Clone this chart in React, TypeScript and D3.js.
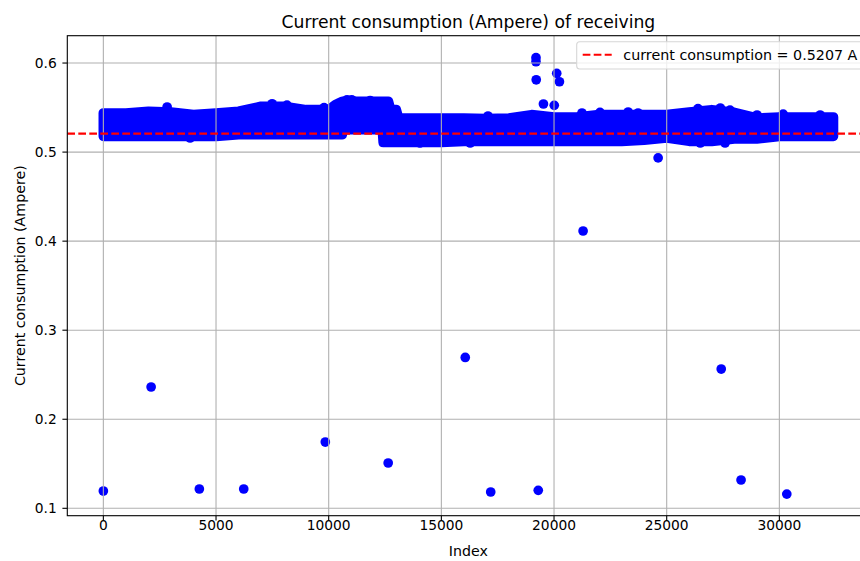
import React, { useEffect, useRef } from 'react';
import * as d3 from 'd3';

// dense band of samples: envelope of the marker centres
const bandIndex = [0, 1000, 2000, 3000, 4000, 5000, 6000, 7000, 8000, 9000, 10000, 10300, 10600, 10650, 11000, 12000, 12380, 12420, 12650, 12750, 13000, 13100, 14000, 15000, 16000, 17000, 18000, 19000, 20000, 21000, 22000, 23000, 24000, 25000, 26000, 27000, 28000, 29000, 30000, 31000, 32000, 32400];
const bandUpper = [0.5439, 0.5439, 0.5458, 0.545, 0.542, 0.5439, 0.5458, 0.5514, 0.5514, 0.5476, 0.5476, 0.5533, 0.557, 0.557, 0.557, 0.557, 0.557, 0.557, 0.557, 0.5476, 0.5476, 0.5382, 0.5382, 0.5382, 0.5382, 0.5377, 0.5382, 0.542, 0.5394, 0.5394, 0.542, 0.542, 0.542, 0.542, 0.545, 0.5476, 0.5446, 0.5382, 0.5394, 0.5394, 0.5394, 0.5394];
const bandLower = [0.5177, 0.5177, 0.5177, 0.5177, 0.5177, 0.5177, 0.5195, 0.5195, 0.5195, 0.5195, 0.5195, 0.5195, 0.5195, 0.5251, 0.5251, 0.5251, 0.5251, 0.511, 0.511, 0.511, 0.511, 0.511, 0.511, 0.511, 0.5121, 0.5121, 0.5121, 0.5121, 0.5121, 0.5121, 0.5121, 0.5121, 0.5135, 0.5158, 0.5121, 0.5121, 0.5147, 0.5147, 0.5177, 0.5177, 0.5177, 0.5177];

// single samples that stand out of the band (outliers and edge bumps)
const pointIndex = [0, 2120, 2830, 3850, 4260, 6230, 7490, 8150, 9795, 9850, 10815, 11020, 11840, 12400, 12640, 14050, 16060, 16280, 17070, 17190, 19200, 19200, 19210, 19300, 19530, 20010, 20120, 20240, 21240, 21290, 22040, 23290, 23730, 24620, 26390, 26490, 27380, 27420, 27590, 27810, 28300, 29010, 30170, 30330, 31810];
const pointValue = [0.1194, 0.2362, 0.5506, 0.5158, 0.1217, 0.1217, 0.5543, 0.5528, 0.55, 0.1744, 0.5588, 0.5588, 0.5579, 0.554, 0.1509, 0.5102, 0.2694, 0.5102, 0.5405, 0.1183, 0.606, 0.6015, 0.5812, 0.1202, 0.554, 0.5525, 0.5884, 0.579, 0.5439, 0.4114, 0.5446, 0.545, 0.5439, 0.4935, 0.5487, 0.5102, 0.5495, 0.2564, 0.5102, 0.5472, 0.1318, 0.5416, 0.5427, 0.116, 0.5416];

const xTicks = [0, 5000, 10000, 15000, 20000, 25000, 30000];
const yTicks = [0.1, 0.2, 0.3, 0.4, 0.5, 0.6];
const meanCurrent = 0.5207;

const W = 860;
const H = 561;
const frame = { left: 67.3, right: 869.5, top: 35.7, bottom: 515.7 };
const FONT = 'DejaVu Sans, sans-serif';

const App = () => {
  const ref = useRef<SVGSVGElement>(null);

  useEffect(() => {
    const svg = d3.select(ref.current);
    svg.selectAll('*').remove();

    const x = d3.scaleLinear().domain([-1600, 34000]).range([frame.left, frame.right]);
    const y = d3.scaleLinear().domain([0.0917, 0.6307]).range([frame.bottom, frame.top]);
    const r = 4.85;

    svg.append('rect').attr('width', W).attr('height', H).attr('fill', '#fff');

    svg.append('clipPath').attr('id', 'plot-clip')
      .append('rect')
      .attr('x', frame.left).attr('y', frame.top)
      .attr('width', frame.right - frame.left).attr('height', frame.bottom - frame.top);

    const plot = svg.append('g').attr('clip-path', 'url(#plot-clip)');

    const band = bandIndex.map((d, i) => ({ i: d, hi: bandUpper[i], lo: bandLower[i] }));
    const area = d3.area<{ i: number; hi: number; lo: number }>()
      .x(d => x(d.i))
      .y0(d => y(d.lo))
      .y1(d => y(d.hi));

    plot.append('path')
      .attr('d', area(band))
      .attr('fill', '#0000ff')
      .attr('stroke', '#0000ff')
      .attr('stroke-width', r * 2)
      .attr('stroke-linejoin', 'round');

    plot.selectAll('circle.pt')
      .data(pointIndex.map((d, i) => [d, pointValue[i]]))
      .join('circle')
      .attr('class', 'pt')
      .attr('cx', d => x(d[0]))
      .attr('cy', d => y(d[1]))
      .attr('r', r)
      .attr('fill', '#0000ff');

    // grid sits above the scatter, as in matplotlib
    plot.selectAll('line.gx')
      .data(xTicks)
      .join('line')
      .attr('class', 'gx')
      .attr('x1', d => x(d)).attr('x2', d => x(d))
      .attr('y1', frame.top).attr('y2', frame.bottom)
      .attr('stroke', '#b0b0b0').attr('stroke-width', 1.1);

    plot.selectAll('line.gy')
      .data(yTicks)
      .join('line')
      .attr('class', 'gy')
      .attr('x1', frame.left).attr('x2', frame.right)
      .attr('y1', d => y(d)).attr('y2', d => y(d))
      .attr('stroke', '#b0b0b0').attr('stroke-width', 1.1);

    plot.append('line')
      .attr('x1', frame.left).attr('x2', frame.right)
      .attr('y1', y(meanCurrent)).attr('y2', y(meanCurrent))
      .attr('stroke', '#ff0000').attr('stroke-width', 2.08)
      .attr('stroke-dasharray', '7.7,3.3');

    svg.append('rect')
      .attr('x', frame.left).attr('y', frame.top)
      .attr('width', frame.right - frame.left).attr('height', frame.bottom - frame.top)
      .attr('fill', 'none').attr('stroke', '#000').attr('stroke-width', 1.1);

    // ticks and labels
    svg.selectAll('line.tx')
      .data(xTicks)
      .join('line')
      .attr('class', 'tx')
      .attr('x1', d => x(d)).attr('x2', d => x(d))
      .attr('y1', frame.bottom).attr('y2', frame.bottom + 4.9)
      .attr('stroke', '#000').attr('stroke-width', 1.1);

    svg.selectAll('text.lx')
      .data(xTicks)
      .join('text')
      .attr('class', 'lx')
      .attr('x', d => x(d))
      .attr('y', 530)
      .attr('text-anchor', 'middle')
      .attr('font-family', FONT).attr('font-size', 13.8)
      .text(d => String(d));

    svg.selectAll('line.ty')
      .data(yTicks)
      .join('line')
      .attr('class', 'ty')
      .attr('x1', frame.left - 4.9).attr('x2', frame.left)
      .attr('y1', d => y(d)).attr('y2', d => y(d))
      .attr('stroke', '#000').attr('stroke-width', 1.1);

    svg.selectAll('text.ly')
      .data(yTicks)
      .join('text')
      .attr('class', 'ly')
      .attr('x', frame.left - 10.5)
      .attr('y', d => y(d) + 5)
      .attr('text-anchor', 'end')
      .attr('font-family', FONT).attr('font-size', 13.8)
      .text(d => d3.format('.1f')(d));

    svg.append('text')
      .attr('x', (frame.left + frame.right) / 2)
      .attr('y', 27.5)
      .attr('text-anchor', 'middle')
      .attr('font-family', FONT).attr('font-size', 17.2)
      .text('Current consumption (Ampere) of receiving');

    svg.append('text')
      .attr('x', (frame.left + frame.right) / 2)
      .attr('y', 556)
      .attr('text-anchor', 'middle')
      .attr('font-family', FONT).attr('font-size', 14.2)
      .text('Index');

    svg.append('text')
      .attr('transform', `translate(25, ${(frame.top + frame.bottom) / 2}) rotate(-90)`)
      .attr('text-anchor', 'middle')
      .attr('font-family', FONT).attr('font-size', 14.2)
      .text('Current consumption (Ampere)');

    // legend
    const lg = svg.append('g');
    lg.append('rect')
      .attr('x', 576.7).attr('y', 41.7)
      .attr('width', 300).attr('height', 27.3)
      .attr('rx', 3)
      .attr('fill', 'rgba(255,255,255,0.8)')
      .attr('stroke', '#d6d6d6').attr('stroke-width', 1.1);
    lg.append('line')
      .attr('x1', 582.7).attr('x2', 611.7)
      .attr('y1', 54.8).attr('y2', 54.8)
      .attr('stroke', '#ff0000').attr('stroke-width', 2.08)
      .attr('stroke-dasharray', '7.7,3.3');
    lg.append('text')
      .attr('x', 623.3).attr('y', 60)
      .attr('font-family', FONT).attr('font-size', 14.3)
      .text(`current consumption = ${meanCurrent} A`);
  }, []);

  return (
    <svg ref={ref} width={W} height={H} style={{ position: 'fixed', left: 0, top: 0 }} />
  );
};

export default App;
